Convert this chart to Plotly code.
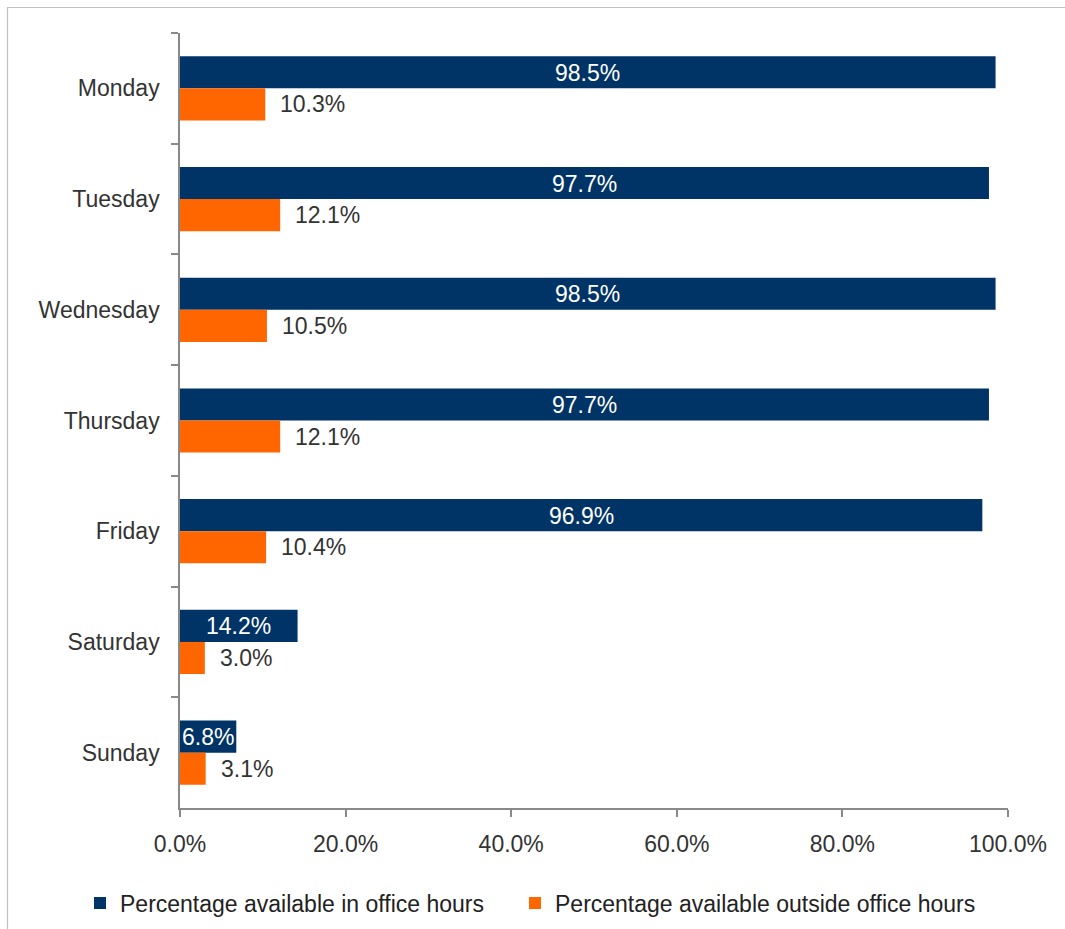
import plotly.graph_objects as go

# Weekday availability data
days = ["Monday", "Tuesday", "Wednesday", "Thursday", "Friday", "Saturday", "Sunday"]
in_office = [98.5, 97.7, 98.5, 97.7, 96.9, 14.2, 6.8]
outside_office = [10.3, 12.1, 10.5, 12.1, 10.4, 3.0, 3.1]
x_ticks = [0, 20, 40, 60, 80, 100]
x_tick_labels = [f"{t:.1f}%" for t in x_ticks]

NAVY = "#003366"
ORANGE = "#FF6600"
FONT = "Liberation Sans, Arial, sans-serif"
TEXT = "#333333"
AXIS = "#898989"

# Plot-area geometry in pixels
W, H = 1065, 929
L, R, T, B = 180, 57, 33, 121
PW, PH = W - L - R, H - T - B


def px_x(x):
    return (x - L) / PW


def px_y(y):
    return 1 - (y - T) / PH


fig = go.Figure()
fig.add_trace(go.Bar(
    y=days, x=in_office, orientation="h", name="Percentage available in office hours",
    marker=dict(color=NAVY, line=dict(width=0)), legend="legend", showlegend=True,
))
fig.add_trace(go.Bar(
    y=days, x=outside_office, orientation="h", name="Percentage available outside office hours",
    marker=dict(color=ORANGE, line=dict(width=0)), legend="legend2", showlegend=True,
))

annotations = []
for d, v in zip(days, in_office):
    annotations.append(dict(
        x=v / 2, y=d, xref="x", yref="y", text=f"{v:.1f}%", showarrow=False,
        xanchor="center", yanchor="middle", yshift=15.5,
        font=dict(family=FONT, size=23, color="#ffffff"),
    ))
for d, v in zip(days, outside_office):
    annotations.append(dict(
        x=v, y=d, xref="x", yref="y", text=f"{v:.1f}%", showarrow=False,
        xanchor="left", yanchor="middle", yshift=-16, xshift=13,
        font=dict(family=FONT, size=23, color=TEXT),
    ))

legend_common = dict(
    orientation="h", xref="container", yref="container",
    y=1 - 903 / H, xanchor="left", yanchor="middle",
    font=dict(family=FONT, size=23, color="#222222"),
    itemwidth=30, bgcolor="rgba(0,0,0,0)", borderwidth=0,
)

fig.update_layout(
    width=W, height=H,
    margin=dict(l=L, r=R, t=T, b=B, autoexpand=False),
    paper_bgcolor="white", plot_bgcolor="white",
    showlegend=True,
    barmode="group", bargap=0.42, bargroupgap=0,
    font=dict(family=FONT, size=23, color=TEXT),
    annotations=annotations,
    legend=dict(x=80 / W, **legend_common),
    legend2=dict(x=515 / W, **legend_common),
    shapes=[dict(
        type="rect", xref="paper", yref="paper",
        x0=px_x(7.5), x1=px_x(1075), y0=px_y(940), y1=px_y(7.5),
        line=dict(color="#c0c0c0", width=1.2), fillcolor="rgba(0,0,0,0)", layer="below",
    )],
    xaxis=dict(
        range=[0, 100], tickvals=x_ticks, ticktext=x_tick_labels, automargin=False,
        showgrid=False, zeroline=False, showline=True, linecolor=AXIS, linewidth=1.5,
        ticks="outside", ticklen=7, tickcolor=AXIS, tickwidth=1.5, ticklabelstandoff=8,
        tickfont=dict(family=FONT, size=23, color=TEXT), mirror=False,
    ),
    yaxis=dict(
        categoryorder="array", categoryarray=days, autorange="reversed", automargin=False,
        showgrid=False, zeroline=False, showline=True, linecolor=AXIS, linewidth=1.5,
        ticks="outside", ticklen=7, tickcolor=AXIS, tickwidth=1.5, tickson="boundaries",
        tickfont=dict(family=FONT, size=23, color=TEXT), ticklabelstandoff=14,
    ),
)

fig.write_html("out.html")
